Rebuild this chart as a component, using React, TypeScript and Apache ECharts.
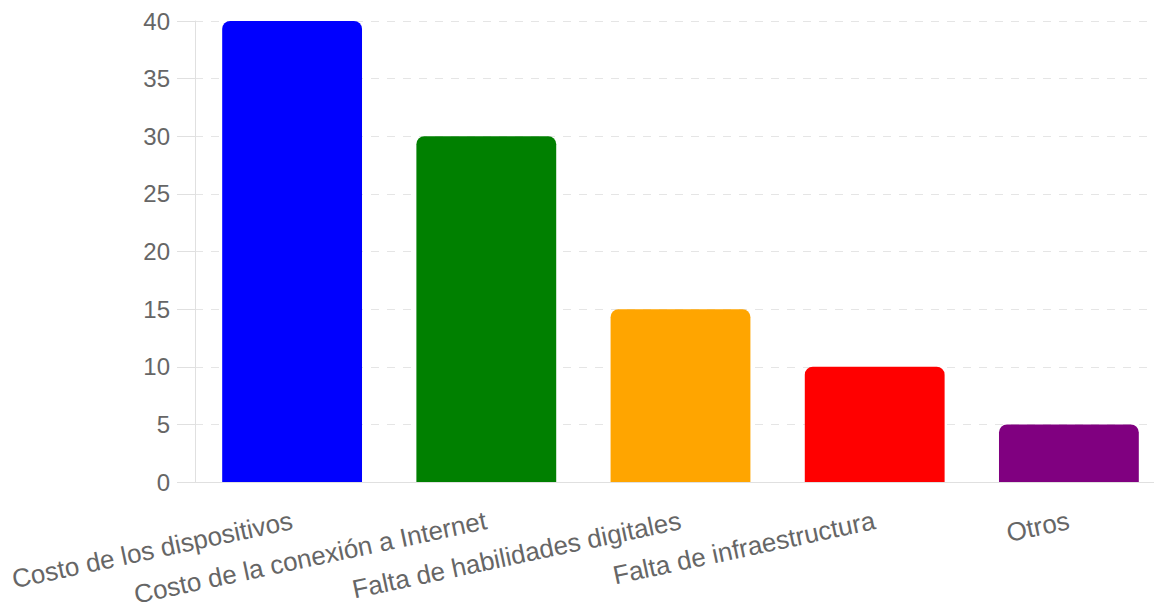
import React, { useEffect, useRef } from "react";
import * as echarts from "echarts";

const categories = [
  "Costo de los dispositivos",
  "Costo de la conexión a Internet",
  "Falta de habilidades digitales",
  "Falta de infraestructura",
  "Otros",
];
const values = [40, 30, 15, 10, 5];
const barColors = ["#0000ff", "#008000", "#ffa500", "#ff0000", "#800080"];
const yTicks = { min: 0, max: 40, interval: 5 };

export default function App() {
  const ref = useRef<HTMLDivElement>(null);
  useEffect(() => {
    if (!ref.current) return;
    const chart = echarts.init(ref.current, undefined, { renderer: "svg" });
    chart.setOption({
      animation: false,
      grid: {
        left: 195,
        top: 21,
        width: 971,
        height: 461,
        containLabel: false,
        outerBoundsMode: "none",
      },
      xAxis: {
        type: "category",
        data: categories,
        axisLine: { show: true, lineStyle: { color: "#e0e0e0", width: 1 } },
        axisTick: { show: false },
        axisLabel: {
          rotate: 12,
          interval: 0,
          margin: 38,
          color: "#666",
          fontSize: 26,
          fontFamily: "Liberation Sans, Arial, sans-serif",
        },
      },
      yAxis: {
        type: "value",
        min: yTicks.min,
        max: yTicks.max,
        interval: yTicks.interval,
        axisLine: { show: true, lineStyle: { color: "#e0e0e0", width: 1 } },
        axisTick: { show: true, length: 18, lineStyle: { color: "#e0e0e0" } },
        axisLabel: {
          margin: 25,
          color: "#666",
          fontSize: 24,
          fontFamily: "Liberation Sans, Arial, sans-serif",
        },
        splitLine: {
          show: true,
          lineStyle: { color: "#e5e5e5", type: [8, 8], width: 1 },
        },
      },
      series: [
        {
          type: "bar",
          data: values.map((v, i) => ({
            value: v,
            itemStyle: { color: barColors[i] },
          })),
          barWidth: "72%",
          itemStyle: { borderRadius: [8, 8, 0, 0] },
        },
      ],
    });
    return () => chart.dispose();
  }, []);
  return <div ref={ref} style={{ width: 1162, height: 610, margin: -8 }} />;
}
